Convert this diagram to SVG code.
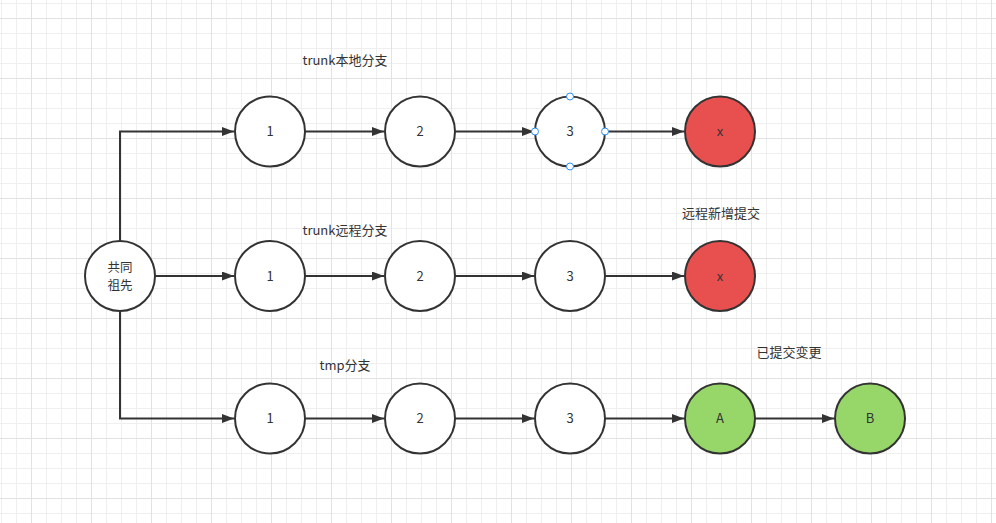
<svg xmlns="http://www.w3.org/2000/svg" width="996" height="523" viewBox="0 0 996 523">
<defs>
<pattern id="grid" x="1" y="3" width="60" height="60" patternUnits="userSpaceOnUse">
<path d="M0.5 0V60M15.5 0V60M45.5 0V60M0 0.5H60M0 30.5H60M0 45.5H60" stroke="#efefef" stroke-width="1" fill="none"/>
<path d="M30.5 0V60M0 15.5H60" stroke="#e2e2e2" stroke-width="1" fill="none"/>
</pattern>
<marker id="arr" markerUnits="userSpaceOnUse" markerWidth="13" markerHeight="10" refX="12" refY="4.5" orient="auto">
<path d="M0,0 L12,4.5 L0,9 Z" fill="#333"/>
</marker>
<style>
.n{stroke:#333;stroke-width:2;fill:#fff}
.r{fill:#e84f4f}
.g{fill:#97d76a}
.c{stroke:#333;stroke-width:2;fill:none;marker-end:url(#arr)}
text{font-family:"Noto Sans CJK SC","Liberation Sans",sans-serif;font-size:13px;fill:#333;text-anchor:middle}
.p{fill:#fff;stroke:#2b8ff5;stroke-width:1}
</style>
</defs>
<rect width="996" height="523" fill="#fff"/>
<rect width="996" height="523" fill="url(#grid)"/>

<g id="connectors">
<path class="c" d="M120 241V131.5H234"/>
<path class="c" d="M155 276H234"/>
<path class="c" d="M120 311V418.5H234"/>
<path class="c" d="M305 131.5H384"/>
<path class="c" d="M455 131.5H534"/>
<path class="c" d="M605 131.5H684"/>
<path class="c" d="M305 276H384"/>
<path class="c" d="M455 276H534"/>
<path class="c" d="M605 276H684"/>
<path class="c" d="M305 418.5H384"/>
<path class="c" d="M455 418.5H534"/>
<path class="c" d="M605 418.5H684"/>
<path class="c" d="M755 418.5H834"/>
</g>

<g id="ancestor"><circle class="n" cx="120" cy="276" r="35"/><text x="120" y="271.5" style="font-size:12.5px">共同</text><text x="120" y="290" style="font-size:12.5px">祖先</text></g>

<g id="r1n1"><circle class="n" cx="270" cy="131.5" r="35"/><text x="270" y="136">1</text></g>
<g id="r1n2"><circle class="n" cx="420" cy="131.5" r="35"/><text x="420" y="136">2</text></g>
<g id="r1n3"><circle class="n" cx="570" cy="131.5" r="35"/><text x="570" y="136">3</text>
<circle class="p" cx="535" cy="131.5" r="3.5"/><circle class="p" cx="605" cy="131.5" r="3.5"/><circle class="p" cx="570" cy="96.5" r="3.5"/><circle class="p" cx="570" cy="166.5" r="3.5"/></g>
<g id="r1n4"><circle class="n r" cx="720" cy="131.5" r="35"/><text x="720" y="136">x</text></g>

<g id="r2n1"><circle class="n" cx="270" cy="276" r="35"/><text x="270" y="280.5">1</text></g>
<g id="r2n2"><circle class="n" cx="420" cy="276" r="35"/><text x="420" y="280.5">2</text></g>
<g id="r2n3"><circle class="n" cx="570" cy="276" r="35"/><text x="570" y="280.5">3</text></g>
<g id="r2n4"><circle class="n r" cx="720" cy="276" r="35"/><text x="720" y="280.5">x</text></g>

<g id="r3n1"><circle class="n" cx="270" cy="418.5" r="35"/><text x="270" y="423">1</text></g>
<g id="r3n2"><circle class="n" cx="420" cy="418.5" r="35"/><text x="420" y="423">2</text></g>
<g id="r3n3"><circle class="n" cx="570" cy="418.5" r="35"/><text x="570" y="423">3</text></g>
<g id="r3nA"><circle class="n g" cx="720" cy="418.5" r="35"/><text x="720" y="423">A</text></g>
<g id="r3nB"><circle class="n g" cx="870" cy="418.5" r="35"/><text x="870" y="423">B</text></g>

<g id="labels">
<text x="345" y="65">trunk本地分支</text>
<text x="345" y="235">trunk远程分支</text>
<text x="721" y="218">远程新增提交</text>
<text x="345" y="369.5">tmp分支</text>
<text x="789" y="357">已提交变更</text>
</g>
</svg>
